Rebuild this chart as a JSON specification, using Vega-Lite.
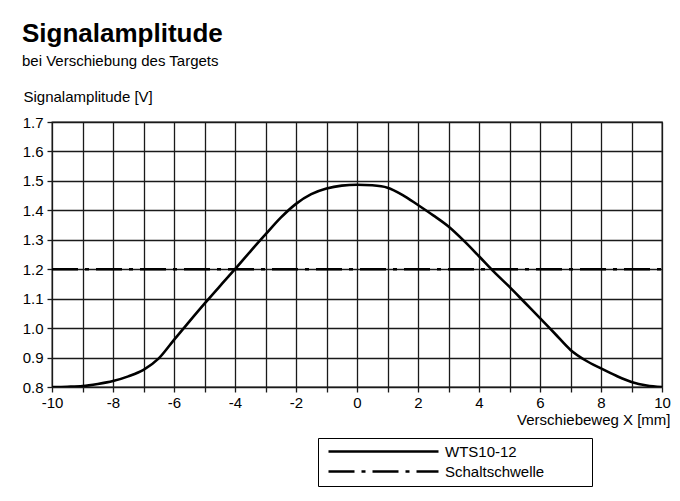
{
  "$schema": "https://vega.github.io/schema/vega-lite/v6.json",
  "width": 610,
  "height": 265,
  "autosize": {"type": "none"},
  "padding": {"left": 52, "top": 122, "right": 18, "bottom": 114},
  "background": "white",
  "title": {
    "text": "Signalamplitude",
    "subtitle": "bei Verschiebung des Targets",
    "anchor": "start",
    "frame": "group",
    "dx": -30,
    "offset": 20,
    "font": "Liberation Sans",
    "fontSize": 26,
    "fontWeight": "bold",
    "color": "black",
    "subtitleFont": "Liberation Sans",
    "subtitleFontSize": 15,
    "subtitleColor": "black",
    "subtitlePadding": 7
  },
  "config": {
    "font": "Liberation Sans",
    "view": {"stroke": "#1a1a1a", "strokeWidth": 1.3},
    "axis": {
      "labelFont": "Liberation Sans",
      "labelFontSize": 15,
      "labelColor": "black",
      "titleFont": "Liberation Sans",
      "titleFontSize": 15,
      "titleFontWeight": "normal",
      "titleColor": "black",
      "grid": true,
      "gridColor": "#1a1a1a",
      "gridWidth": 1.3,
      "gridOpacity": 1,
      "tickColor": "#1a1a1a",
      "tickWidth": 1.3,
      "tickSize": 5,
      "domain": false
    }
  },
  "data": {
    "values": [
      {"x": -10, "y": 0.800, "series": "WTS10-12"},
      {"x": -9.5, "y": 0.801, "series": "WTS10-12"},
      {"x": -9, "y": 0.803, "series": "WTS10-12"},
      {"x": -8.5, "y": 0.810, "series": "WTS10-12"},
      {"x": -8, "y": 0.820, "series": "WTS10-12"},
      {"x": -7.5, "y": 0.836, "series": "WTS10-12"},
      {"x": -7, "y": 0.858, "series": "WTS10-12"},
      {"x": -6.5, "y": 0.897, "series": "WTS10-12"},
      {"x": -6, "y": 0.960, "series": "WTS10-12"},
      {"x": -5.5, "y": 1.022, "series": "WTS10-12"},
      {"x": -5, "y": 1.083, "series": "WTS10-12"},
      {"x": -4.5, "y": 1.142, "series": "WTS10-12"},
      {"x": -4, "y": 1.200, "series": "WTS10-12"},
      {"x": -3.5, "y": 1.260, "series": "WTS10-12"},
      {"x": -3, "y": 1.318, "series": "WTS10-12"},
      {"x": -2.5, "y": 1.375, "series": "WTS10-12"},
      {"x": -2, "y": 1.422, "series": "WTS10-12"},
      {"x": -1.5, "y": 1.455, "series": "WTS10-12"},
      {"x": -1, "y": 1.474, "series": "WTS10-12"},
      {"x": -0.5, "y": 1.484, "series": "WTS10-12"},
      {"x": 0, "y": 1.487, "series": "WTS10-12"},
      {"x": 0.5, "y": 1.485, "series": "WTS10-12"},
      {"x": 1, "y": 1.477, "series": "WTS10-12"},
      {"x": 1.5, "y": 1.452, "series": "WTS10-12"},
      {"x": 2, "y": 1.418, "series": "WTS10-12"},
      {"x": 2.5, "y": 1.383, "series": "WTS10-12"},
      {"x": 3, "y": 1.345, "series": "WTS10-12"},
      {"x": 3.5, "y": 1.297, "series": "WTS10-12"},
      {"x": 4, "y": 1.244, "series": "WTS10-12"},
      {"x": 4.5, "y": 1.190, "series": "WTS10-12"},
      {"x": 5, "y": 1.140, "series": "WTS10-12"},
      {"x": 5.5, "y": 1.087, "series": "WTS10-12"},
      {"x": 6, "y": 1.034, "series": "WTS10-12"},
      {"x": 6.5, "y": 0.980, "series": "WTS10-12"},
      {"x": 7, "y": 0.926, "series": "WTS10-12"},
      {"x": 7.5, "y": 0.890, "series": "WTS10-12"},
      {"x": 8, "y": 0.863, "series": "WTS10-12"},
      {"x": 8.5, "y": 0.838, "series": "WTS10-12"},
      {"x": 9, "y": 0.817, "series": "WTS10-12"},
      {"x": 9.5, "y": 0.805, "series": "WTS10-12"},
      {"x": 10, "y": 0.800, "series": "WTS10-12"},
      {"x": -10, "y": 1.2, "series": "Schaltschwelle"},
      {"x": 10, "y": 1.2, "series": "Schaltschwelle"}
    ]
  },
  "encoding": {
    "x": {
      "field": "x",
      "type": "quantitative",
      "scale": {"domain": [-10, 10], "nice": false},
      "axis": {
        "values": [-10, -9, -8, -7, -6, -5, -4, -3, -2, -1, 0, 1, 2, 3, 4, 5, 6, 7, 8, 9, 10],
        "labelExpr": "datum.value % 2 == 0 ? '' + datum.value : ''",
        "labelPadding": 3,
        "labelFlush": false,
        "labelOverlap": false,
        "title": "Verschiebeweg X [mm]",
        "titleAlign": "right",
        "titleX": 618,
        "titleY": 37,
        "titleBaseline": "alphabetic"
      }
    },
    "y": {
      "field": "y",
      "type": "quantitative",
      "scale": {"domain": [0.8, 1.7], "nice": false, "zero": false},
      "axis": {
        "values": [0.8, 0.9, 1.0, 1.1, 1.2, 1.3, 1.4, 1.5, 1.6, 1.7],
        "format": ".1f",
        "labelPadding": 4,
        "labelFlush": false,
        "labelOverlap": false,
        "title": "Signalamplitude [V]",
        "titleAngle": 0,
        "titleAlign": "left",
        "titleX": -29,
        "titleY": -21,
        "titleBaseline": "alphabetic"
      }
    },
    "color": {
      "field": "series",
      "type": "nominal",
      "scale": {"domain": ["WTS10-12", "Schaltschwelle"], "range": ["black", "black"]},
      "legend": {
        "title": null,
        "orient": "none",
        "legendX": 266,
        "legendY": 316,
        "strokeColor": "black",
        "fillColor": "white",
        "padding": 6,
        "symbolType": "M-10,0H10",
        "symbolSize": 121,
        "symbolStrokeWidth": 2.6,
        "symbolFillColor": "transparent",
        "symbolOffset": 52,
        "labelFont": "Liberation Sans",
        "labelFontSize": 15,
        "labelColor": "black",
        "labelOffset": 54,
        "labelLimit": 300,
        "labelExpr": "datum.label + '\u00a0\u00a0\u00a0\u00a0\u00a0\u00a0\u00a0\u00a0\u00a0\u00a0\u200b'",
        "rowPadding": 4,
        "encode": {
          "symbols": {
            "update": {
              "strokeDash": {"signal": "datum.value == 'Schaltschwelle' ? [26, 7, 4, 7] : null"}
            }
          }
        }
      }
    }
  },
  "layer": [
    {
      "transform": [{"filter": "datum.series == 'WTS10-12'"}],
      "mark": {"type": "line", "strokeWidth": 2.6, "interpolate": "monotone", "clip": true}
    },
    {
      "transform": [{"filter": "datum.series == 'Schaltschwelle'"}],
      "mark": {"type": "line", "strokeWidth": 2.6, "strokeDash": [26, 7, 4, 7], "clip": true}
    }
  ]
}
